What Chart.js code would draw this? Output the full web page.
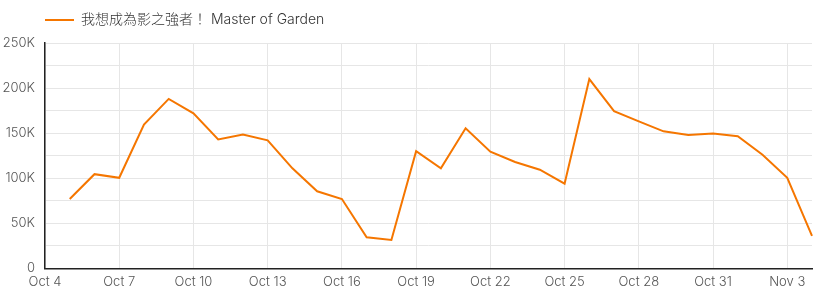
<!DOCTYPE html>
<html>
<head>
<meta charset="utf-8">
<script src="https://cdn.jsdelivr.net/npm/chart.js@4"></script>
<style>
  html, body { margin: 0; padding: 0; background: #fff; }
  #wrap { width: 822px; height: 296px; }
</style>
</head>
<body>
<div id="wrap"><canvas id="viewChart"></canvas></div>
<script>
// day labels, Oct 4 .. Nov 4
const days = ['Oct 4','Oct 5','Oct 6','Oct 7','Oct 8','Oct 9','Oct 10','Oct 11','Oct 12','Oct 13',
  'Oct 14','Oct 15','Oct 16','Oct 17','Oct 18','Oct 19','Oct 20','Oct 21','Oct 22','Oct 23',
  'Oct 24','Oct 25','Oct 26','Oct 27','Oct 28','Oct 29','Oct 30','Oct 31','Nov 1','Nov 2',
  'Nov 3','Nov 4'];
const seriesName = '我想成為影之強者！ Master of Garden';
// no value for Oct 4
const views = [null, 77000, 104500, 100500, 159500, 188000, 172000, 143000, 148500, 142000,
  111000, 85500, 77000, 34500, 31500, 130000, 111000, 155500, 129500, 118000,
  109500, 94000, 210000, 174500, 163000, 152000, 148000, 149500, 146500, 126000,
  100500, 36000];
const yMax = 250000;
const yStep = 25000;

const fontFam = "Inter, 'Noto Sans CJK TC', sans-serif";

// push legend over to the plot's left edge, and leave more room under it
const legendShift = {
  id: 'legendShift',
  beforeInit(chart) {
    const lg = chart.legend;
    const origFit = lg.fit;
    lg.fit = function () {
      origFit.call(this);
      this.height += 6;
    };
  },
  afterLayout(chart) {
    chart.legend.left = chart.chartArea.left - 10;
  }
};

document.addEventListener('DOMContentLoaded', function () {
  const ctx = document.getElementById('viewChart');
  new Chart(ctx, {
    type: 'line',
    data: {
      labels: days,
      datasets: [{
        label: seriesName,
        data: views,
        borderColor: 'rgb(245, 118, 0)',
        backgroundColor: 'rgb(245, 118, 0)',
        borderWidth: 2,
        pointRadius: 0,
        tension: 0,
        fill: false
      }]
    },
    options: {
      responsive: true,
      maintainAspectRatio: false,
      animation: false,
      layout: { padding: { left: 0, right: 10, top: 3, bottom: 0 } },
      plugins: {
        legend: {
          align: 'start',
          labels: {
            usePointStyle: true,
            pointStyle: 'line',
            pointStyleWidth: 29,
            color: '#333',
            font: { family: fontFam, size: 14, weight: 300 }
          }
        },
        tooltip: { enabled: false }
      },
      scales: {
        x: {
          offset: false,
          grid: { color: '#e6e6e6', drawTicks: false },
          border: { color: '#222', width: 1.5 },
          ticks: {
            autoSkip: false,
            maxRotation: 0,
            padding: 6,
            color: '#555',
            font: { family: fontFam, size: 13, weight: 300 },
            callback: function (value, index) {
              return index % 3 === 0 ? days[index] : null;
            }
          }
        },
        y: {
          min: 0,
          max: yMax,
          grid: { color: '#e6e6e6', drawTicks: false },
          border: { color: '#222', width: 1.5 },
          afterFit: function (scale) { scale.width = 45; },
          ticks: {
            stepSize: yStep,
            padding: 10,
            color: '#555',
            font: { family: fontFam, size: 13, weight: 300 },
            callback: function (value) {
              if (value % 50000 !== 0) return '';
              return value === 0 ? '0' : (value / 1000) + 'K';
            }
          }
        }
      }
    },
    plugins: [legendShift]
  });
});
</script>
</body>
</html>
